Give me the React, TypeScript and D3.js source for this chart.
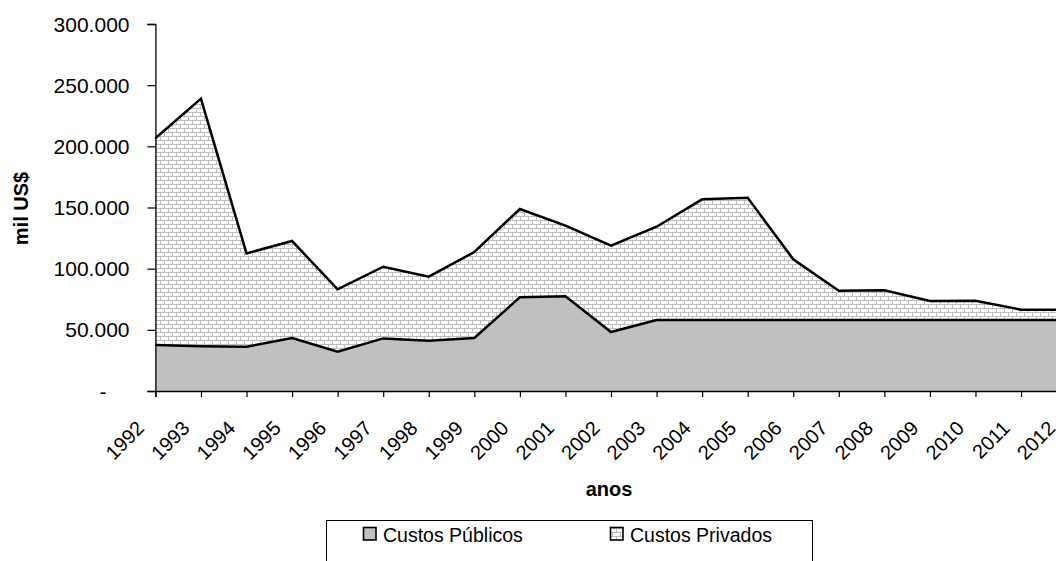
import React, { useEffect, useRef } from "react";
import * as d3 from "d3";

const years = [1992, 1993, 1994, 1995, 1996, 1997, 1998, 1999, 2000, 2001, 2002, 2003, 2004, 2005, 2006, 2007, 2008, 2009, 2010, 2011, 2012];
const custosPublicos = [37600, 36500, 36200, 43300, 32200, 43000, 41100, 43300, 76600, 77400, 48200, 58000, 58000, 58000, 58000, 58000, 58000, 58000, 58000, 58000, 58000];
const custosPrivados = [169000, 202500, 76300, 79300, 50900, 58600, 52400, 70300, 72200, 57800, 70600, 76300, 98700, 100000, 49700, 24000, 24300, 15600, 15800, 8500, 8500];
const yTicks = [0, 50000, 100000, 150000, 200000, 250000, 300000];
const seriesNames = ["Custos Públicos", "Custos Privados"];

const W = 1056;
const H = 561;
const FONT = "'Liberation Sans', Arial, sans-serif";

export default function App() {
  const ref = useRef<SVGSVGElement | null>(null);

  useEffect(() => {
    const svg = d3.select(ref.current);
    svg.selectAll("*").remove();

    const x = d3.scaleLinear().domain([1992, 2012]).range([155.4, 1066.6]);
    const y = d3.scaleLinear().domain([0, 300000]).range([391, 24]);

    const defs = svg.append("defs");
    const pat = defs.append("pattern").attr("id", "brick").attr("patternUnits", "userSpaceOnUse")
      .attr("width", 8).attr("height", 8);
    pat.append("rect").attr("width", 8).attr("height", 8).attr("fill", "#ffffff");
    const pc = "#bdbdbd";
    pat.append("line").attr("x1", 0).attr("x2", 8).attr("y1", 0.5).attr("y2", 0.5).attr("stroke", pc).attr("stroke-width", 1);
    pat.append("line").attr("x1", 0).attr("x2", 8).attr("y1", 4.5).attr("y2", 4.5).attr("stroke", pc).attr("stroke-width", 1);
    pat.append("line").attr("x1", 0.5).attr("x2", 0.5).attr("y1", 0).attr("y2", 4.5).attr("stroke", pc).attr("stroke-width", 1);
    pat.append("line").attr("x1", 4.5).attr("x2", 4.5).attr("y1", 4.5).attr("y2", 8).attr("stroke", pc).attr("stroke-width", 1);

    const data = years.map((yr, i) => ({ year: yr, pub: custosPublicos[i], priv: custosPrivados[i] }));
    const stacked = d3.stack<any>().keys(["pub", "priv"])(data);

    const area = d3.area<any>()
      .x((d) => x(d.data.year))
      .y0((d) => y(d[0]))
      .y1((d) => y(d[1]));
    const line = d3.line<any>()
      .x((d) => x(d.data.year))
      .y((d) => y(d[1]));

    const fills = ["#c0c0c0", "url(#brick)"];
    stacked.forEach((s, i) => {
      svg.append("path").attr("d", area(s as any) as string).attr("fill", fills[i]);
    });
    stacked.slice().reverse().forEach((s) => {
      svg.append("path").attr("d", line(s as any) as string).attr("fill", "none")
        .attr("stroke", "#000").attr("stroke-width", 2.5).attr("stroke-linejoin", "miter");
    });

    // axes
    const yAxis = d3.axisLeft(y).tickValues(yTicks).tickSize(8).tickFormat(() => "");
    const gy = svg.append("g").attr("transform", "translate(155.4,0)").call(yAxis as any);
    gy.select(".domain").attr("stroke", "#000").attr("stroke-width", 1.3);
    gy.selectAll(".tick line").attr("stroke", "#000").attr("stroke-width", 1.2);

    const fmt = d3.formatLocale({ decimal: ",", thousands: ".", grouping: [3], currency: ["", ""] }).format(",.0f");
    yTicks.forEach((t) => {
      svg.append("text")
        .attr("x", t === 0 ? 106.5 : 129.5)
        .attr("y", y(t))
        .attr("dy", "0.36em")
        .attr("text-anchor", "end")
        .attr("font-family", FONT)
        .attr("font-size", 21)
        .attr("fill", "#000")
        .text(t === 0 ? "-" : fmt(t));
    });

    const xAxis = d3.axisBottom(x).tickValues(years).tickSize(6).tickFormat(() => "");
    const gx = svg.append("g").attr("transform", "translate(0,391)").call(xAxis as any);
    gx.select(".domain").attr("stroke", "#000").attr("stroke-width", 1.3);
    gx.selectAll(".tick line").attr("stroke", "#000").attr("stroke-width", 1.2);

    years.forEach((yr) => {
      const px = x(yr) - 10;
      const py = 429.5;
      svg.append("text")
        .attr("transform", `translate(${px},${py}) rotate(-45)`)
        .attr("text-anchor", "end")
        .attr("font-family", FONT)
        .attr("font-size", 20)
        .attr("fill", "#000")
        .text(String(yr));
    });

    svg.append("text")
      .attr("transform", "translate(28,208.5) rotate(-90)")
      .attr("text-anchor", "middle")
      .attr("font-family", FONT)
      .attr("font-weight", "bold")
      .attr("font-size", 20)
      .text("mil US$");

    svg.append("text")
      .attr("x", 609)
      .attr("y", 496)
      .attr("text-anchor", "middle")
      .attr("font-family", FONT)
      .attr("font-weight", "bold")
      .attr("font-size", 20)
      .text("anos");

    // legend
    svg.append("rect").attr("x", 326.5).attr("y", 520.5).attr("width", 486).attr("height", 60)
      .attr("fill", "#fff").attr("stroke", "#000").attr("stroke-width", 1);
    const items = [
      { x: 363.5, fill: fills[0], name: seriesNames[0] },
      { x: 610.5, fill: fills[1], name: seriesNames[1] },
    ];
    items.forEach((it) => {
      svg.append("rect").attr("x", it.x).attr("y", 527.5).attr("width", 12.5).attr("height", 12.5)
        .attr("fill", it.fill).attr("stroke", "#000").attr("stroke-width", 1.6);
      svg.append("text").attr("x", it.x + 19.5).attr("y", 541.5)
        .attr("font-family", FONT).attr("font-size", 19.5).attr("fill", "#000").text(it.name);
    });
  }, []);

  return (
    <svg ref={ref} width={W} height={H} style={{ position: "absolute", left: 0, top: 0, background: "#fff" }} />
  );
}
